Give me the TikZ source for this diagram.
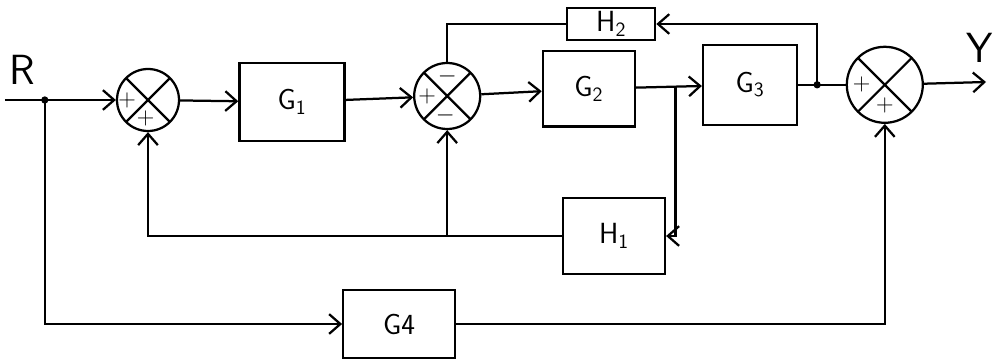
\documentclass[tikz,border=0pt]{standalone}
\usepackage{tikz}
\usetikzlibrary{arrows.meta, calc}
\tikzset{
  block/.style={
    rectangle, draw, line width=1.6pt, font=\huge\sffamily, inner sep=2pt
  },
  sumnode/.style={
    circle, draw, line width=1.6pt, inner sep=0pt,
    path picture={
      \draw[line width=1.6pt]
        (path picture bounding box.north west) -- (path picture bounding box.south east)
        (path picture bounding box.south west) -- (path picture bounding box.north east);
    }
  },
  sgn/.style={font=\LARGE\bfseries, inner sep=0pt},
  sig/.style={font=\fontsize{30}{32}\selectfont\sffamily, inner sep=0pt},
  arrow/.style={-{Straight Barb[length=8pt, width=14pt]}, line width=1.6pt},
  wire/.style={line width=1.6pt},
  junction/.style={fill, radius=2.6pt}
}

\begin{document}
\begin{tikzpicture}
  \useasboundingbox (0,0) rectangle (24.85,9);

  \node[sig] (rlab) at (0.55,7.25) {R};
  \node[sig] (ylab) at (24.5,7.8) {Y};
  \coordinate (in)   at (0.12,6.5);
  \coordinate (b0)   at (1.12,6.5);
  \coordinate (yout) at (24.65,6.95);

  \node[sumnode, minimum size=1.55cm,
        label={[sgn, xshift=-0.52cm]center:$+$},
        label={[sgn, xshift=-0.06cm, yshift=-0.45cm]center:$+$}] (s1) at (3.7,6.5) {};
  \node[block, minimum width=2.63cm, minimum height=1.95cm] (g1) at (7.3,6.45) {G\textsubscript{1}};
  \node[sumnode, minimum size=1.65cm,
        label={[sgn, xshift=-0.5cm]center:$+$},
        label={[sgn, yshift=0.48cm]center:$-$},
        label={[sgn, xshift=-0.05cm, yshift=-0.48cm]center:$-$}] (s2) at (11.18,6.6) {};
  \node[block, minimum width=2.3cm, minimum height=1.88cm] (g2) at (14.72,6.78) {G\textsubscript{2}};
  \node[block, minimum width=2.35cm, minimum height=2cm] (g3) at (18.75,6.88) {G\textsubscript{3}};
  \node[sumnode, minimum size=1.9cm,
        label={[sgn, xshift=-0.58cm]center:$+$},
        label={[sgn, yshift=-0.52cm]center:$+$}] (s3) at (22.12,6.88) {};

  \node[block, minimum width=2.2cm, minimum height=0.8cm] (h2) at (15.28,8.4) {H\textsubscript{2}};
  \node[block, minimum width=2.55cm, minimum height=1.9cm] (h1) at (15.35,3.1) {H\textsubscript{1}};
  \node[block, minimum width=2.8cm, minimum height=1.7cm] (g4) at (9.98,0.9) {G4};

  \coordinate (b2) at ($(g2.east)!0.6!(g3.west)$);
  \coordinate (b3) at ($(g3.east)!0.4!(s3.west)$);
  \coordinate (j2) at (s2 |- h1);

  \draw[arrow] (in) -- (s1);
  \draw[arrow] (s1) -- (g1);
  \draw[arrow] (g1) -- (s2);
  \draw[arrow] (s2) -- (g2);
  \draw[arrow] (g2) -- (g3);
  \draw[wire] (g3) -- (s3);
  \draw[arrow] (s3) -- (yout);

  \draw[arrow] (b3) |- (h2);
  \draw[wire] (h2) -| (s2);
  \draw[arrow] (b2) |- (h1);
  \draw[arrow] (h1) -| (s1);
  \draw[arrow] (j2) -- (s2);
  \draw[arrow] (b0) |- (g4);
  \draw[arrow] (g4) -| (s3);

  \fill[junction] (b0) circle;
  \fill[junction] (b3) circle;
\end{tikzpicture}
\end{document}
